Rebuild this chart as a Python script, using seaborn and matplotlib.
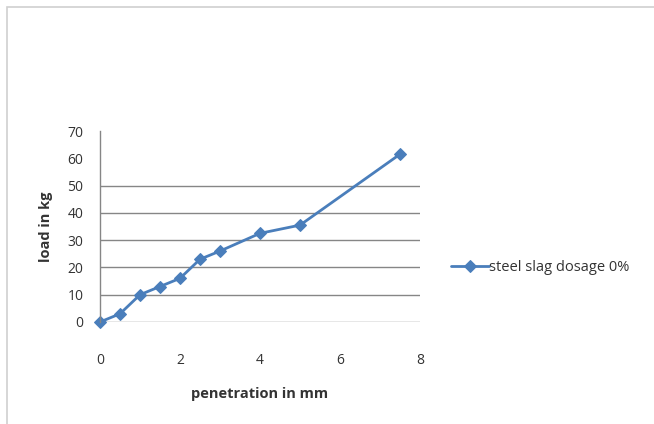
import matplotlib
matplotlib.use("Agg")
import matplotlib.pyplot as plt
import seaborn as sns
import pandas as pd
from matplotlib.patches import Rectangle

penetration = [0, 0.5, 1, 1.5, 2, 2.5, 3, 4, 5, 7.5]
load = [0, 3, 10, 13, 16, 23, 26, 32.5, 35.5, 61.5]
series_name = "steel slag dosage 0%"
x_ticks = [0, 2, 4, 6, 8]
y_ticks = [0, 10, 20, 30, 40, 50, 60, 70]

sns.set_theme(style="white")
plt.rcParams['font.family'] = ['Open Sans', 'DejaVu Sans']

df = pd.DataFrame({"penetration": penetration, "load": load, "series": series_name})

fig = plt.figure(figsize=(6.54, 4.24), dpi=100)
fig.patches.append(Rectangle((0.011, -0.02), 1.1, 1.004, transform=fig.transFigure,
                             fill=False, edgecolor="#d0d0d0", linewidth=1.2))
ax = fig.add_axes([0.1529, 0.2406, 0.4893, 0.4504])

sns.lineplot(data=df, x="penetration", y="load", hue="series", palette=["#4A7EBB"],
             marker="D", markersize=6.5, markeredgecolor="#4A7EBB", linewidth=2,
             ax=ax, legend=False)
for ln in ax.get_lines():
    ln.set_clip_on(False)

ax.set_xlim(0, 8)
ax.set_ylim(0, 70)
ax.set_xticks(x_ticks)
ax.set_yticks(y_ticks)
ax.tick_params(axis="x", length=0, pad=22, labelsize=10, labelcolor="#333333")
ax.tick_params(axis="y", length=0, pad=12, labelsize=10, labelcolor="#333333")
ax.grid(axis="y", color="#868686", linewidth=1.0)
for gl in ax.get_ygridlines()[6:]:
    gl.set_visible(False)
ax.set_axisbelow(True)
for s in ["top", "right", "bottom"]:
    ax.spines[s].set_visible(False)
ax.spines["left"].set_color("#868686")
ax.spines["left"].set_linewidth(1.0)

ax.set_xlabel("penetration in mm", fontsize=10.5, fontweight="bold", color="#333333", labelpad=14)
ax.set_ylabel("load in kg", fontsize=10.5, fontweight="bold", color="#333333", labelpad=10)

handles = ax.get_lines()[:1]
fig.legend(handles, [series_name], loc="center left", bbox_to_anchor=(0.67, 0.37),
           frameon=False, fontsize=10.5, handlelength=2.6, handletextpad=0.0,
           labelcolor="#333333")

fig.savefig("out.png", dpi=100)
